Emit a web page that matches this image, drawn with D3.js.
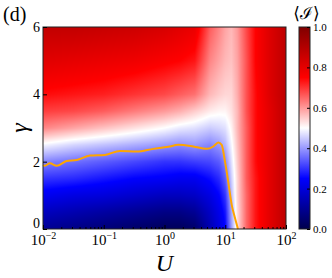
<!DOCTYPE html>
<html>
<head>
<meta charset="utf-8">
<script src="https://cdn.jsdelivr.net/npm/d3@7"></script>
<style>
body { margin: 0; background: #fff; }
text { font-family: "Liberation Serif", "DejaVu Serif", serif; fill: #000; }
</style>
</head>
<body>
<svg id="chart" width="332" height="278"></svg>
<script>
// grid of U (columns) and gamma (rows)
var gridU = [0.01, 0.0316, 0.1, 0.316, 1, 1.78, 3.16, 5.62, 7.94, 10, 12.6, 15.8, 22.4, 31.6, 56.2, 100];
var gridGamma = [0, 0.5, 1, 1.5, 2, 2.5, 3, 3.5, 4, 5, 6];
// <I> for each U column, bottom (gamma=0) to top (gamma=6)
var meanI = [
  [0.10, 0.16, 0.23, 0.30, 0.38, 0.49, 0.62, 0.69, 0.74, 0.81, 0.87],
  [0.08, 0.14, 0.21, 0.29, 0.36, 0.46, 0.59, 0.68, 0.73, 0.80, 0.87],
  [0.06, 0.12, 0.20, 0.27, 0.34, 0.44, 0.56, 0.66, 0.72, 0.79, 0.86],
  [0.04, 0.10, 0.18, 0.25, 0.32, 0.42, 0.53, 0.63, 0.70, 0.78, 0.85],
  [0.02, 0.08, 0.16, 0.24, 0.30, 0.40, 0.50, 0.60, 0.68, 0.76, 0.83],
  [0.02, 0.08, 0.16, 0.23, 0.30, 0.39, 0.48, 0.58, 0.66, 0.75, 0.81],
  [0.04, 0.10, 0.17, 0.23, 0.31, 0.40, 0.47, 0.55, 0.64, 0.73, 0.79],
  [0.14, 0.17, 0.21, 0.26, 0.32, 0.38, 0.45, 0.52, 0.57, 0.62, 0.66],
  [0.20, 0.22, 0.25, 0.29, 0.34, 0.40, 0.46, 0.51, 0.55, 0.59, 0.62],
  [0.25, 0.27, 0.30, 0.34, 0.38, 0.43, 0.47, 0.51, 0.54, 0.57, 0.59],
  [0.40, 0.41, 0.43, 0.45, 0.47, 0.49, 0.51, 0.53, 0.54, 0.56, 0.57],
  [0.53, 0.53, 0.54, 0.54, 0.55, 0.56, 0.57, 0.57, 0.58, 0.59, 0.60],
  [0.65, 0.65, 0.65, 0.66, 0.66, 0.66, 0.66, 0.67, 0.67, 0.67, 0.68],
  [0.73, 0.73, 0.73, 0.73, 0.74, 0.74, 0.74, 0.74, 0.74, 0.75, 0.75],
  [0.81, 0.81, 0.81, 0.81, 0.81, 0.81, 0.81, 0.81, 0.82, 0.82, 0.82],
  [0.88, 0.88, 0.88, 0.88, 0.88, 0.88, 0.88, 0.88, 0.88, 0.88, 0.88]
];
// orange line
var lineU = [0.01, 0.0107, 0.0130, 0.0168, 0.0245, 0.0359, 0.0594, 0.105, 0.185, 0.348, 0.655, 1.16, 1.69, 2.98, 4.95, 6.35, 7.69, 8.73, 9.91, 11.2, 12.8, 14.5, 16.2];
var lineGamma = [1.9, 1.88, 1.95, 1.88, 2.02, 2.05, 2.18, 2.2, 2.32, 2.3, 2.38, 2.44, 2.5, 2.45, 2.38, 2.45, 2.57, 2.5, 2.0, 1.4, 0.71, 0.32, 0.0];
var xTicks = [0.01, 0.1, 1, 10, 100];
var xExp = ["\u22122", "\u22121", "0", "1", "2"];
var yTicks = [0, 2, 4, 6];
var cbTicks = [0, 0.2, 0.4, 0.6, 0.8, 1.0];

var margin = { top: 27, left: 43 },
    width = 243,
    height = 202;

var svg = d3.select("#chart");

var x = d3.scaleLog().domain([0.01, 100]).range([0, width]);
var y = d3.scaleLinear().domain([0, 6]).range([height, 0]);

// seismic colormap
var cmap = d3.scaleLinear()
  .domain([0, 0.25, 0.5, 0.75, 1])
  .range(["#00004c", "#0000ff", "#ffffff", "#ff0000", "#800000"])
  .clamp(true);

// paint heatmap on a canvas, bilinear between grid nodes (log U)
var canvas = document.createElement("canvas");
canvas.width = width; canvas.height = height;
var ctx = canvas.getContext("2d");
var img = ctx.createImageData(width, height);
var logGrid = gridU.map(Math.log10);
function seg(arr, v) {
  var i = d3.bisectRight(arr, v) - 1;
  i = Math.max(0, Math.min(arr.length - 2, i));
  var t = (v - arr[i]) / (arr[i + 1] - arr[i]);
  return [i, Math.max(0, Math.min(1, t))];
}
for (var px = 0; px < width; px++) {
  var sx = seg(logGrid, Math.log10(x.invert(px + 0.5)));
  for (var py = 0; py < height; py++) {
    var sy = seg(gridGamma, y.invert(py + 0.5));
    var a = meanI[sx[0]], b = meanI[sx[0] + 1];
    var v0 = a[sy[0]] * (1 - sy[1]) + a[sy[0] + 1] * sy[1];
    var v1 = b[sy[0]] * (1 - sy[1]) + b[sy[0] + 1] * sy[1];
    var c = d3.rgb(cmap(v0 * (1 - sx[1]) + v1 * sx[1]));
    var k = (py * width + px) * 4;
    img.data[k] = c.r; img.data[k + 1] = c.g; img.data[k + 2] = c.b; img.data[k + 3] = 255;
  }
}
ctx.putImageData(img, 0, 0);

var g = svg.append("g").attr("transform", "translate(" + margin.left + "," + margin.top + ")");

g.append("image")
  .attr("x", x(0.01)).attr("y", y(6))
  .attr("width", x(100) - x(0.01)).attr("height", y(0) - y(6))
  .attr("preserveAspectRatio", "none")
  .attr("href", canvas.toDataURL());

var line = d3.line()
  .x(function(d, i) { return x(lineU[i]); })
  .y(function(d) { return y(d); })
  .curve(d3.curveMonotoneX);

g.append("path")
  .datum(lineGamma)
  .attr("fill", "none")
  .attr("stroke", "#ffa500")
  .attr("stroke-width", 2)
  .attr("d", line);

g.append("rect")
  .attr("width", width).attr("height", height)
  .attr("fill", "none").attr("stroke", "#222").attr("stroke-width", 1);

// x axis
var minor = [];
for (var e = -2; e < 2; e++) for (var m = 2; m < 10; m++) minor.push(m * Math.pow(10, e));
g.append("g")
  .attr("transform", "translate(0," + height + ")")
  .call(d3.axisBottom(x).tickValues(minor).tickSize(-2).tickFormat(""))
  .call(function(s) { s.select(".domain").remove(); });

var xa = g.append("g")
  .attr("transform", "translate(0," + height + ")")
  .call(d3.axisBottom(x).tickValues(xTicks).tickSize(-4).tickPadding(5).tickFormat(""));
xa.select(".domain").remove();
xa.selectAll(".tick text").remove();
xa.selectAll(".tick").append("text")
  .attr("y", 16)
  .attr("text-anchor", "middle")
  .style("font-size", "15px")
  .each(function(d, i) {
    var t = d3.select(this);
    t.append("tspan").text("10");
    t.append("tspan").attr("dy", -6).style("font-size", "10px").text(xExp[i]);
  });

// y axis
var ya = g.append("g")
  .call(d3.axisLeft(y).tickValues(yTicks).tickSize(-4).tickPadding(3).tickFormat(d3.format("d")));
ya.select(".domain").remove();
ya.selectAll(".tick text").style("font-size", "14px")
  .attr("dy", function(d) { return d === 0 ? "-0.1em" : "0.32em"; });

// labels
svg.append("text")
  .attr("x", margin.left + x(1))
  .attr("y", 271)
  .attr("text-anchor", "middle")
  .style("font-size", "24px").style("font-style", "italic")
  .text("U");

svg.append("text")
  .attr("transform", "translate(27," + (margin.top + height / 2) + ") rotate(-90)")
  .attr("text-anchor", "middle")
  .style("font-size", "24px").style("font-style", "italic")
  .text("\u03b3");

svg.append("text")
  .attr("x", 3).attr("y", 21)
  .style("font-size", "20px")
  .text("(d)");

// colorbar
var cbX = 299, cbW = 11;
var cy = d3.scaleLinear().domain([0, 1]).range([margin.top + height, margin.top]);
var grad = svg.append("defs").append("linearGradient")
  .attr("id", "cbgrad").attr("x1", 0).attr("y1", 1).attr("x2", 0).attr("y2", 0);
grad.selectAll("stop")
  .data(cmap.domain())
  .enter().append("stop")
  .attr("offset", function(d) { return d; })
  .attr("stop-color", function(d) { return cmap(d); });

svg.append("rect")
  .attr("x", cbX).attr("y", cy(1))
  .attr("width", cbW).attr("height", cy(0) - cy(1))
  .attr("fill", "url(#cbgrad)")
  .attr("stroke", "#222").attr("stroke-width", 1);

var ca = svg.append("g")
  .attr("transform", "translate(" + (cbX + cbW) + ",0)")
  .call(d3.axisRight(cy).tickValues(cbTicks).tickSize(-3).tickPadding(3).tickFormat(d3.format(".1f")));
ca.select(".domain").remove();
ca.selectAll(".tick text").style("font-size", "11px");

svg.append("text")
  .attr("x", cbX + cbW / 2 + 2).attr("y", 19)
  .attr("text-anchor", "middle")
  .style("font-size", "17px")
  .text("\u27e8\u2110\u27e9");
</script>
</body>
</html>
